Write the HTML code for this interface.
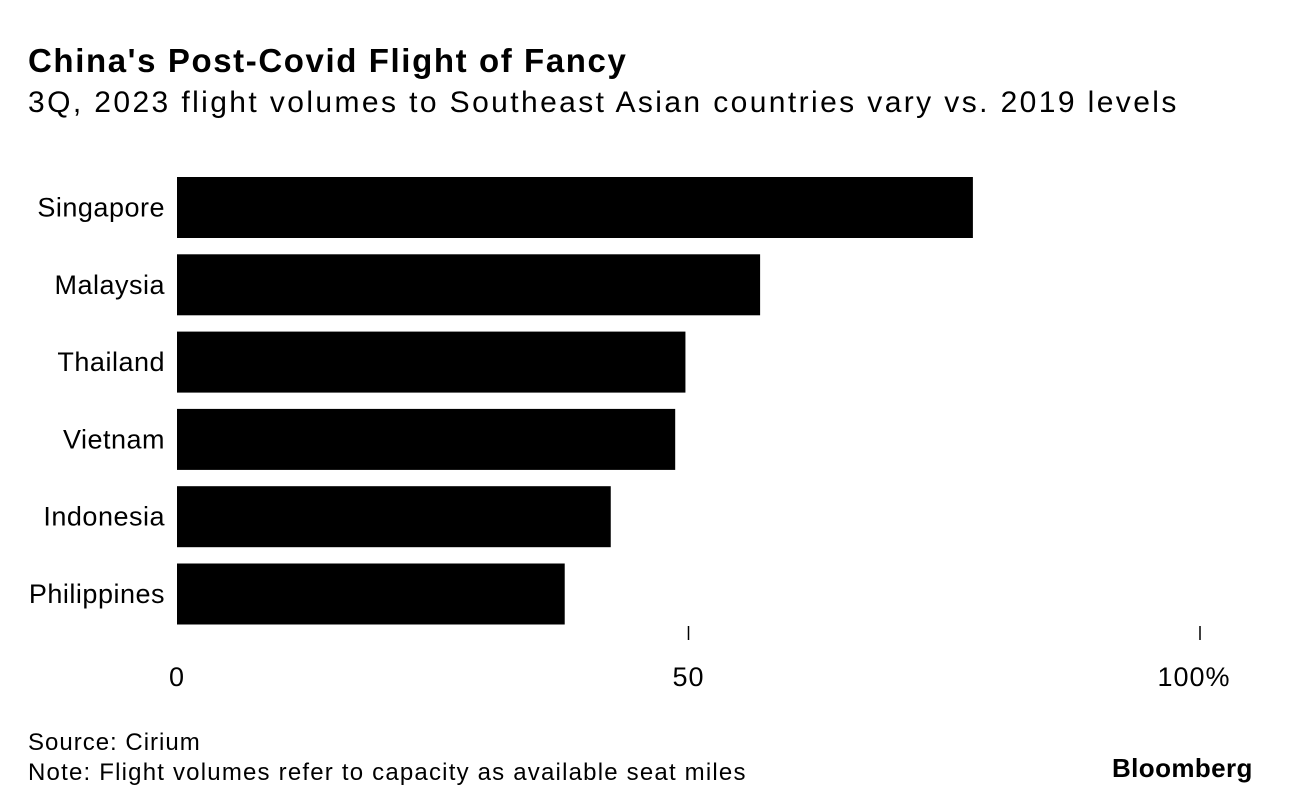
<!DOCTYPE html>
<html><head><meta charset="utf-8"><style>
body{margin:0;background:#fff;font-family:"Liberation Sans",sans-serif;}
#wrap{position:relative;width:1292px;height:812px;overflow:hidden;}
.t{position:absolute;white-space:nowrap;color:#000;}
</style></head><body>
<div id="wrap">
<div class="t" style="left:28px;top:42px;font-size:33px;font-weight:bold;letter-spacing:1.6px">China's Post-Covid Flight of Fancy</div>
<div class="t" style="left:28px;top:86px;font-size:30px;letter-spacing:2.4px">3Q, 2023 flight volumes to Southeast Asian countries vary vs. 2019 levels</div>
<svg id="chart" width="1292" height="812" style="position:absolute;left:0;top:0"></svg>
<div class="t" style="left:28px;top:729px;font-size:24px;letter-spacing:1px">Source: Cirium</div>
<div class="t" style="left:28px;top:759px;font-size:24px;letter-spacing:1.2px">Note: Flight volumes refer to capacity as available seat miles</div>
<div class="t" style="left:1112px;top:753px;font-size:26px;font-weight:bold;letter-spacing:0.4px">Bloomberg</div>
</div>
<script>
const categories=["Singapore","Malaysia","Thailand","Vietnam","Indonesia","Philippines"];
const values=[77.8,57.0,49.7,48.7,42.4,37.9];
const tickValues=[0,50,100];
const tickLabels=["0","50","100%"];
const svg=document.getElementById('chart');
const NS='http://www.w3.org/2000/svg';
const x=v=>177+v*10.23;
const y=i=>177+i*77.3;
const bh=61;
categories.forEach((c,i)=>{
 const r=document.createElementNS(NS,'rect');
 
 
 r.setAttribute('x',x(0));r.setAttribute('y',y(i));
 r.setAttribute('width',x(values[i])-x(0));r.setAttribute('height',bh);
 r.setAttribute('fill','#000');svg.appendChild(r);
 const t=document.createElementNS(NS,'text');
 
 
 t.setAttribute('x',165);t.setAttribute('y',y(i)+bh/2+9);
 t.setAttribute('text-anchor','end');t.setAttribute('font-size','27');
 t.setAttribute('letter-spacing','0.5');
 t.setAttribute('font-family','Liberation Sans, sans-serif');
 t.textContent=c;svg.appendChild(t);
});
tickValues.forEach((v,i)=>{
 if(v>0){const l=document.createElementNS(NS,'line');
 
 
 l.setAttribute('x1',x(v));l.setAttribute('x2',x(v));
 l.setAttribute('y1',626);l.setAttribute('y2',640);
 l.setAttribute('stroke','#000');l.setAttribute('stroke-width','1.5');svg.appendChild(l);}
 const t=document.createElementNS(NS,'text');
 
 
 t.setAttribute('x',x(v)+(i==2?-6:0));t.setAttribute('y',686);
 t.setAttribute('text-anchor','middle');t.setAttribute('font-size','27');
 t.setAttribute('letter-spacing','1');
 t.setAttribute('font-family','Liberation Sans, sans-serif');
 t.textContent=tickLabels[i];svg.appendChild(t);
});
</script>
</body></html>
